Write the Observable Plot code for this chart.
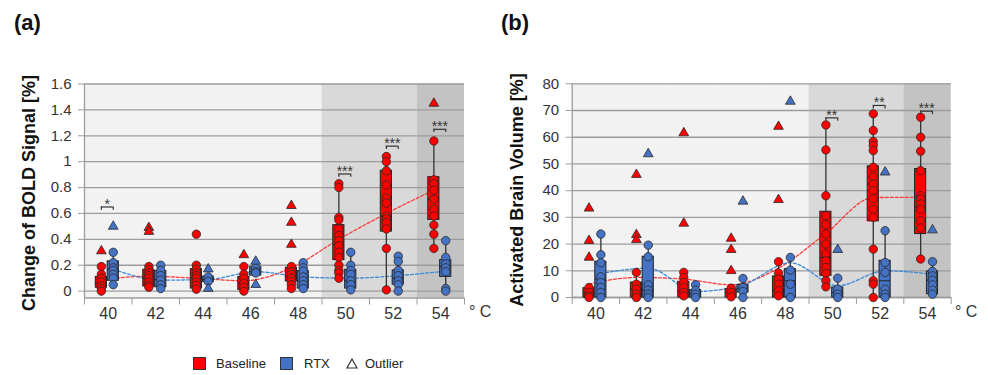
<!DOCTYPE html>
<html>
<head>
<meta charset="utf-8">
<script src="https://cdn.jsdelivr.net/npm/d3@7"></script>
<script src="https://cdn.jsdelivr.net/npm/@observablehq/plot@0.6"></script>
<style>
  html, body { margin: 0; padding: 0; background: #fff; }
  #wrap { position: relative; width: 988px; height: 375px; overflow: hidden; font-family: "Liberation Sans", Arial, sans-serif; color: #222; }
  .panel { position: absolute; top: 0; }
  .lab { position: absolute; font-weight: bold; font-size: 22px; color: #111; }
  .ytitle { position: absolute; font-weight: bold; font-size: 18px; color: #111; white-space: nowrap; transform: translate(-50%, -50%) rotate(-90deg); }
  .unit { position: absolute; font-size: 16px; color: #333; }
  .leg { position: absolute; font-size: 13px; color: #222; line-height: 16px; }
  .sq { position: absolute; width: 13px; height: 13px; border: 1px solid #333; box-sizing: border-box; }
</style>
</head>
<body>
<div id="wrap">
  <div class="panel" id="pa" style="left:0"></div>
  <div class="panel" id="pb" style="left:494px"></div>
  <div class="lab" style="left:14px;top:10px">(a)</div>
  <div class="lab" style="left:501px;top:10px">(b)</div>
  <div class="ytitle" style="left:29px;top:193px">Change of BOLD Signal [%]</div>
  <div class="ytitle" style="left:517px;top:190px">Activated Brain Volume [%]</div>
  <div class="unit" style="left:469px;top:303px">° C</div>
  <div class="unit" style="left:955px;top:303px">° C</div>
  <div class="sq" style="left:193px;top:357px;background:#ff0000"></div>
  <div class="leg" style="left:216px;top:356px">Baseline</div>
  <div class="sq" style="left:280px;top:357px;background:#4472c4"></div>
  <div class="leg" style="left:304px;top:356px">RTX</div>
  <svg style="position:absolute;left:346px;top:358px" width="12" height="11"><polygon points="6,1 11,10 1,10" fill="none" stroke="#333" stroke-width="1.2"/></svg>
  <div class="leg" style="left:365px;top:356px">Outlier</div>
</div>
<script>
// ---------- categories ----------
const temps = ["40","42","44","46","48","50","52","54"];
const zone  = ["light","light","light","light","light","mid","mid","dark"];

// ---------- panel (a): change of BOLD signal [%] ----------
// box stats per temperature: [min, q1, median, q3, max]
const boldBaseBox = [
  [0.00, 0.026, 0.06, 0.11, 0.19],
  [0.03, 0.036, 0.10, 0.165, 0.19],
  [0.015, 0.02, 0.10, 0.17, 0.20],
  [0.00, 0.01, 0.06, 0.11, 0.19],
  [0.02, 0.075, 0.11, 0.18, 0.19],
  [0.10, 0.24, 0.36, 0.51, 0.83],
  [0.01, 0.46, 0.58, 0.93, 1.04],
  [0.33, 0.55, 0.71, 0.88, 1.16]
];
const boldBasePts = [
  [0.19, 0.13, 0.10, 0.07, 0.04, 0.02, 0.00],
  [0.19, 0.165, 0.14, 0.12, 0.10, 0.07, 0.045, 0.03],
  [0.20, 0.17, 0.14, 0.12, 0.10, 0.07, 0.045, 0.015, 0.44],
  [0.19, 0.13, 0.10, 0.06, 0.03, 0.00],
  [0.19, 0.15, 0.13, 0.10, 0.075, 0.05, 0.02],
  [0.83, 0.80, 0.57, 0.55, 0.48, 0.43, 0.39, 0.35, 0.30, 0.26, 0.20, 0.16, 0.14, 0.10],
  [1.04, 1.00, 0.93, 0.82, 0.72, 0.68, 0.58, 0.56, 0.53, 0.48, 0.33, 0.01],
  [1.16, 0.86, 0.83, 0.78, 0.71, 0.63, 0.58, 0.51, 0.44, 0.33]
];
const boldBaseOut  = [[0.31], [0.49, 0.46], [], [0.28], [0.66, 0.53, 0.36], [], [], [1.45]];
const boldBaseMean = [0.09, 0.115, 0.10, 0.08, 0.18, 0.40, 0.60, 0.78];

const boldRtxBox = [
  [0.04, 0.08, 0.17, 0.23, 0.30],
  [0.02, 0.03, 0.09, 0.155, 0.20],
  [0.05, 0.07, 0.09, 0.113, 0.13],
  [0.12, 0.12, 0.15, 0.185, 0.185],
  [0.02, 0.02, 0.08, 0.155, 0.22],
  [0.01, 0.02, 0.08, 0.165, 0.30],
  [0.00, 0.05, 0.10, 0.16, 0.27],
  [0.00, 0.11, 0.19, 0.24, 0.39]
];
const boldRtxPts = [
  [0.30, 0.22, 0.18, 0.16, 0.13, 0.10, 0.05],
  [0.20, 0.16, 0.12, 0.085, 0.05, 0.02],
  [0.11, 0.075],
  [0.18, 0.15, 0.14],
  [0.22, 0.18, 0.155, 0.11, 0.08, 0.05, 0.02],
  [0.30, 0.20, 0.16, 0.13, 0.08, 0.05, 0.01],
  [0.27, 0.23, 0.16, 0.12, 0.08, 0.05, 0.00],
  [0.39, 0.26, 0.21, 0.18, 0.15, 0.02, 0.00]
];
const boldRtxOut  = [[0.50], [], [0.17, 0.02], [0.23, 0.05], [], [], [], []];
const boldRtxMean = [0.17, 0.085, 0.09, 0.15, 0.11, 0.10, 0.12, 0.155];

const boldSig  = ["*", "", "", "", "", "***", "***", "***"];
const boldSigY = [0.65, null, null, null, null, 0.905, 1.12, 1.25];
const boldTicks = [0, 0.2, 0.4, 0.6, 0.8, 1, 1.2, 1.4, 1.6];

// ---------- panel (b): activated brain volume [%] ----------
const volBaseBox = [
  [0, 0, 1.9, 3.5, 3.75],
  [0, 0, 3.1, 5.6, 9.4],
  [0, 0, 2.5, 5.9, 9.4],
  [0, 0, 1.9, 3.1, 3.5],
  [0, 0, 2.75, 7.9, 13.4],
  [4, 8.1, 15, 32.1, 64.6],
  [0, 28.5, 42.5, 49.1, 68.75],
  [14.4, 23.75, 33.75, 48.1, 67.5]
];
const volBasePts = [
  [3.75, 1.9, 0.6, 0],
  [9.4, 5, 3.1, 1.25, 0],
  [9.4, 7.5, 5.6, 3.75, 1.9, 0.6],
  [3.5, 1.9, 0.25],
  [13.4, 9.1, 6.9, 5, 2.5, 0.6],
  [64.6, 55.25, 38.1, 30.6, 27.25, 23.75, 20, 16.25, 13.75, 11.25, 9, 6.25, 4],
  [68.75, 62.5, 58.4, 56.9, 55, 48.75, 45, 42.5, 40, 37, 33, 30, 18.1, 6.25, 5, 0],
  [67.5, 60, 54.75, 47.5, 38.1, 36.9, 35, 33, 28.75, 26, 14.4]
];
const volBaseOut  = [[33.4, 21.3, 15], [46, 23.5, 21.6], [61.6, 27.75], [22.1, 17.9, 10], [64, 36.6], [], [], []];
const volBaseMean = [5, 7.5, 6.9, 4.75, 11, 24, 37.4, 37.5];

const volRtxBox = [
  [0, 0, 6.9, 13.4, 23.75],
  [0, 0, 2.75, 15.25, 19.6],
  [0, 0, 1.5, 2.75, 4.75],
  [0, 1.9, 3.5, 4.75, 7.1],
  [0, 0, 6.25, 10.6, 15],
  [0, 0, 1.9, 3.75, 7.25],
  [0, 0, 6.25, 13.75, 25],
  [1.25, 1.25, 6.5, 9.75, 13.4]
];
const volRtxPts = [
  [23.75, 16, 13, 7.75, 5.6, 3.75, 1.9, 0],
  [19.6, 15.25, 4.75, 2.75, 1.25, 0],
  [4.75, 2.75, 1.25, 0],
  [7.1, 3.75, 2.25, 0],
  [15, 10.25, 5, 0],
  [7.25, 3.1, 1.25, 0],
  [25, 13.1, 9.4, 3.1, 1.25, 0],
  [13.4, 9.75, 8.1, 6.5, 4.75, 2.75, 1.25]
];
const volRtxOut  = [[], [53.75], [], [36], [73.4], [17.9], [46.9], [25.25]];
const volRtxMean = [9, 11, 2.25, 4.75, 13, 4.4, 10, 8.75];

const volSig  = ["", "", "", "", "", "**", "**", "***"];
const volSigY = [null, null, null, null, null, 67.25, 71.9, 69.75];
const volTicks = [0, 10, 20, 30, 40, 50, 60, 70, 80];

// ---------- styling ----------
const OFF = {base: -0.145, rtx: 0.105};
const BW = 0.235;
const FILL = {base: "#ff0000", rtx: "#4472c4"};
const LINE = {base: "#ff3a3a", rtx: "#3a8bd8"};
const ZONE = {light: "#f2f2f2", mid: "#d9d9d9", dark: "#c3c3c3"};
const FONT = "'Liberation Sans', Arial, sans-serif";

function panel(cfg) {
  const series = [
    {s: "base", box: cfg.baseBox, pts: cfg.basePts, out: cfg.baseOut, mean: cfg.baseMean},
    {s: "rtx",  box: cfg.rtxBox,  pts: cfg.rtxPts,  out: cfg.rtxOut,  mean: cfg.rtxMean}
  ];
  const boxes = [], pts = [], outs = [], means = [];
  for (const S of series) {
    temps.forEach((t, i) => {
      const [lo, q1, med, q3, hi] = S.box[i];
      boxes.push({i, s: S.s, lo, q1, med, q3, hi});
      S.pts[i].forEach(v => pts.push({i, s: S.s, v}));
      S.out[i].forEach(v => outs.push({i, s: S.s, v}));
      means.push({i, s: S.s, v: S.mean[i]});
    });
  }
  const sig = temps.map((t, i) => ({i, text: cfg.sig[i], y: cfg.sigY[i]})).filter(d => d.text);
  const xs = d => d.i + 0.5 + OFF[d.s];
  const xb = d => d.i + 0.5 + OFF.base;
  const xr = d => d.i + 0.5 + OFF.rtx;
  const [y0, y1] = cfg.yDomain;
  const leg = cfg.leg;
  return Plot.plot({
    width: 494, height: 340,
    marginLeft: cfg.marginLeft, marginRight: cfg.marginRight,
    marginTop: cfg.marginTop, marginBottom: cfg.marginBottom,
    style: {fontFamily: FONT, background: "transparent", overflow: "visible"},
    x: {domain: [0, temps.length], axis: null},
    y: {domain: cfg.yDomain, axis: null},
    marks: [
      Plot.rect(temps.map((t, i) => ({i, z: zone[i]})), {
        x1: d => d.i, x2: d => d.i + 1, y1: () => y0, y2: () => y1, fill: d => ZONE[d.z]
      }),
      Plot.ruleY(cfg.ticks, {stroke: "#9c9c9c", strokeWidth: 1.3, x1: () => 0, x2: () => temps.length}),
      Plot.axisY(cfg.ticks, {tickSize: 6, tickPadding: 7, fontSize: 15, stroke: "#9c9c9c", fill: "#333",
        tickFormat: cfg.fmt}),
      Plot.ruleX([0], {stroke: "#9c9c9c", strokeWidth: 1.3}),
      Plot.ruleY([y0], {stroke: "#9c9c9c", strokeWidth: 1.3}),
      Plot.axisX(d3.range(temps.length + 1), {tickSize: 7, stroke: "#9c9c9c", tickFormat: () => ""}),
      Plot.axisX(temps.map((t, i) => i + 0.5), {tickSize: 0, tickPadding: 10, fontSize: 16, fill: "#333",
        tickFormat: v => temps[Math.floor(v)]}),
      Plot.line(means.filter(d => d.s === "base"), {x: xs, y: "v", curve: "monotone-x",
        stroke: LINE.base, strokeWidth: 1.3, strokeDasharray: "3,2"}),
      Plot.line(means.filter(d => d.s === "rtx"), {x: xs, y: "v", curve: "monotone-x",
        stroke: LINE.rtx, strokeWidth: 1.3, strokeDasharray: "3,2"}),
      Plot.ruleX(boxes, {x: xs, y1: "lo", y2: "hi", stroke: "#333", strokeWidth: 1.3}),
      Plot.rect(boxes, {x1: d => xs(d) - BW / 2, x2: d => xs(d) + BW / 2, y1: "q1", y2: "q3",
        fill: d => FILL[d.s], stroke: "#222", strokeWidth: 1}),
      Plot.ruleY(boxes, {x1: d => xs(d) - BW / 2, x2: d => xs(d) + BW / 2, y: "med", stroke: "#222", strokeWidth: 1}),
      Plot.dot(pts, {x: xs, y: "v", r: 4.2, fill: d => FILL[d.s], stroke: "#2a2a2a", strokeWidth: 0.8}),
      Plot.dot(outs, {x: xs, y: "v", r: 3.6, symbol: "triangle", fill: d => FILL[d.s], stroke: "#2a2a2a", strokeWidth: 0.8}),
      Plot.ruleY(sig, {x1: xb, x2: xr, y: "y", stroke: "#333", strokeWidth: 1.2}),
      Plot.ruleX(sig, {x: xb, y1: "y", y2: d => d.y - leg, stroke: "#333", strokeWidth: 1.2}),
      Plot.ruleX(sig, {x: xr, y1: "y", y2: d => d.y - leg, stroke: "#333", strokeWidth: 1.2}),
      Plot.text(sig, {x: d => (xb(d) + xr(d)) / 2, y: "y", text: "text", fontSize: 14,
        fill: "#333", lineAnchor: "bottom", dy: 2, letterSpacing: "0.5px"})
    ]
  });
}

document.getElementById("pa").appendChild(panel({
  baseBox: boldBaseBox, basePts: boldBasePts, baseOut: boldBaseOut, baseMean: boldBaseMean,
  rtxBox: boldRtxBox, rtxPts: boldRtxPts, rtxOut: boldRtxOut, rtxMean: boldRtxMean,
  sig: boldSig, sigY: boldSigY, ticks: boldTicks, leg: 0.025,
  yDomain: [-0.053, 1.6], fmt: d => String(+d.toFixed(1)),
  marginLeft: 84, marginRight: 30, marginTop: 83.5, marginBottom: 42.5
}));
document.getElementById("pb").appendChild(panel({
  baseBox: volBaseBox, basePts: volBasePts, baseOut: volBaseOut, baseMean: volBaseMean,
  rtxBox: volRtxBox, rtxPts: volRtxPts, rtxOut: volRtxOut, rtxMean: volRtxMean,
  sig: volSig, sigY: volSigY, ticks: volTicks, leg: 1.3,
  yDomain: [0, 80], fmt: d => String(d),
  marginLeft: 77.7, marginRight: 37.3, marginTop: 83.3, marginBottom: 43
}));
</script>
</body>
</html>
